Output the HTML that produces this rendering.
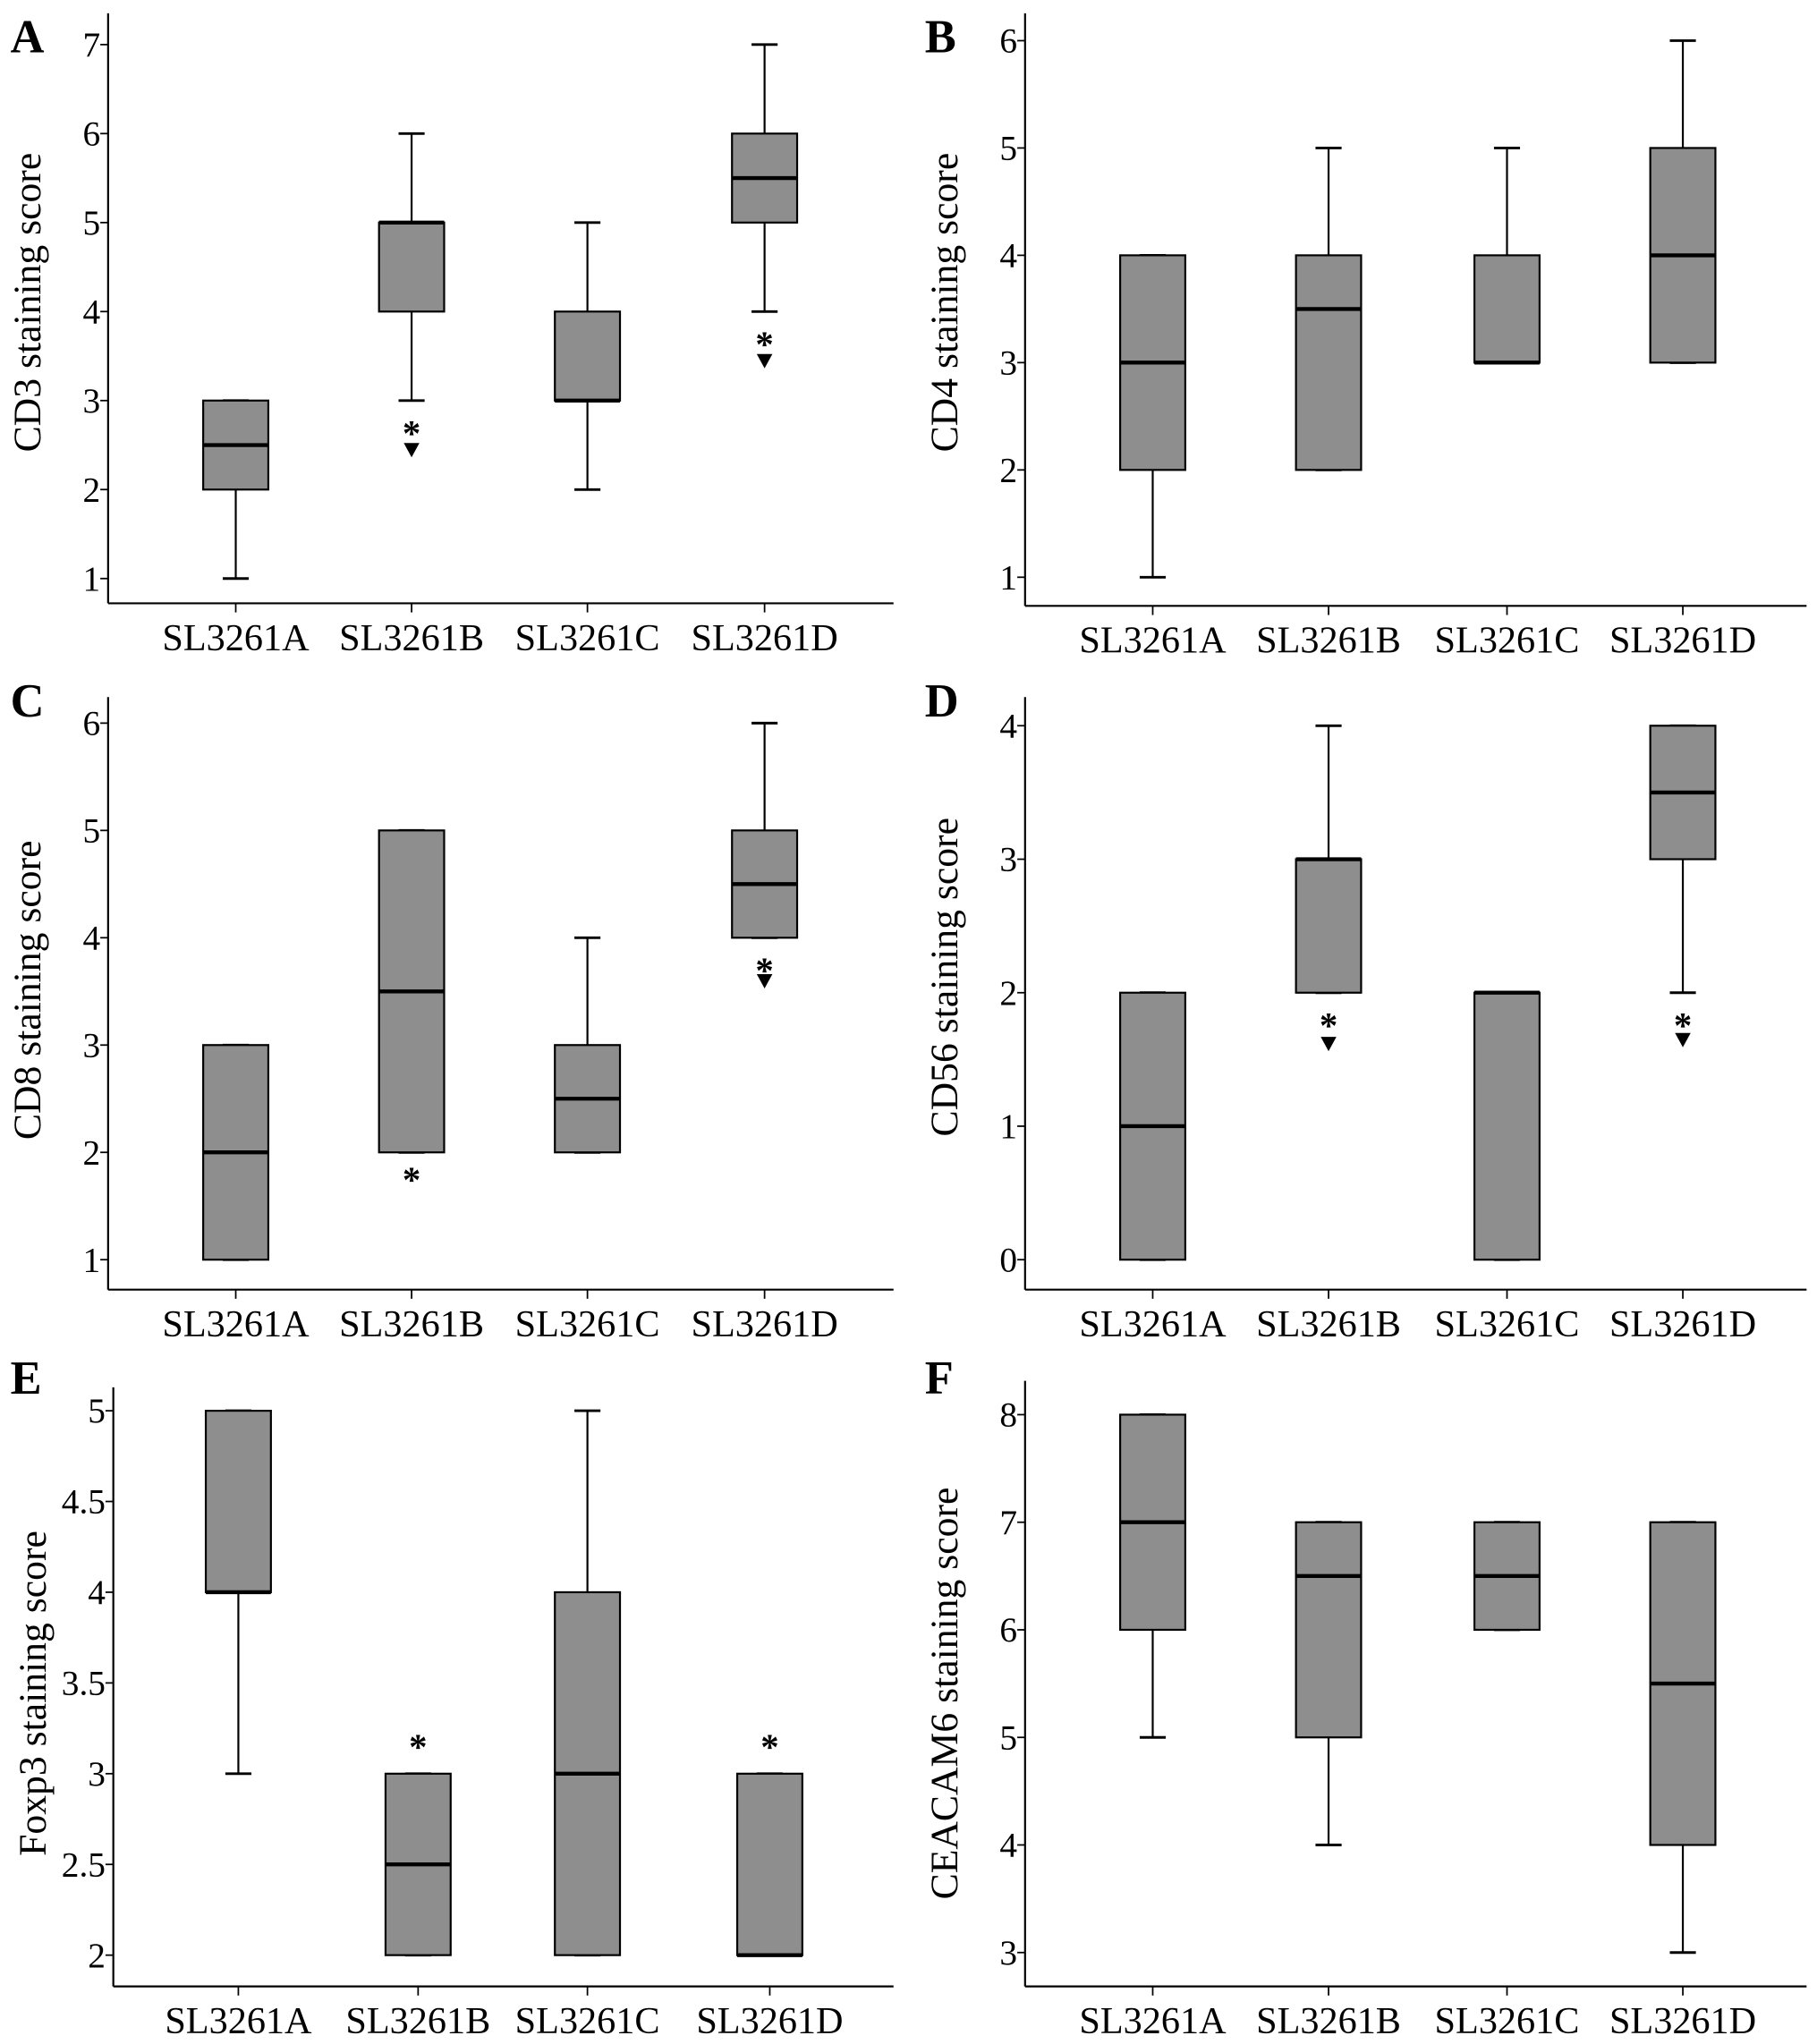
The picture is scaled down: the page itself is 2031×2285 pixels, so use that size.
<!DOCTYPE html>
<html><head><meta charset="utf-8"><style>
body{margin:0;background:#fff}
svg{display:block}
text{font-family:"Liberation Serif",serif;fill:#000}
</style></head><body>
<svg id="fig" width="2031" height="2285" viewBox="0 0 1395 1569" xmlns="http://www.w3.org/2000/svg"></svg>
<script>
const categories=["SL3261A","SL3261B","SL3261C","SL3261D"];
// per panel box stats: [min,q1,median,q3,max]
const statsA=[[1,2,2.5,3,3],[3,4,5,5,6],[2,3,3,4,5],[4,5,5.5,6,7]];
const statsB=[[1,2,3,4,4],[2,2,3.5,4,5],[3,3,3,4,5],[3,3,4,5,6]];
const statsC=[[1,1,2,3,3],[2,2,3.5,5,5],[2,2,2.5,3,4],[4,4,4.5,5,6]];
const statsD=[[0,0,1,2,2],[2,2,3,3,4],[0,0,2,2,2],[2,3,3.5,4,4]];
const statsE=[[3,4,4,5,5],[2,2,2.5,3,3],[2,2,3,4,5],[2,2,2,3,3]];
const statsF=[[5,6,7,8,8],[4,5,6.5,7,7],[6,6,6.5,7,7],[3,4,5.5,7,7]];
// outlier markers: [categoryIndex, value]
const starsA=[[1,2.7],[3,3.7]]; const trisA=[[1,2.45],[3,3.45]];
const starsC=[[1,1.8],[3,3.75]]; const trisC=[[3,3.6]];
const starsD=[[1,1.8],[3,1.8]]; const trisD=[[1,1.62],[3,1.65]];
const starsE=[[1,3.18],[3,3.18]]; const trisE=[];
const ticksA=["1","2","3","4","5","6","7"];
const ticksB=["1","2","3","4","5","6"];
const ticksC=["1","2","3","4","5","6"];
const ticksD=["0","1","2","3","4"];
const ticksE=["2","2.5","3","3.5","4","4.5","5"];
const ticksF=["3","4","5","6","7","8"];

const panels=[
 {id:"a",letter:"A",lx:8,ly:40,ax:83,top:10,base:463,right:686,v0:1,y0:444,v1:7,y1:34,cx:[181,316,451,587],title:"CD3 staining score",ty:232,stats:statsA,ticks:ticksA,stars:starsA,tris:trisA},
 {id:"b",letter:"B",lx:710,ly:40,ax:787,top:10,base:465,right:1387,v0:1,y0:443,v1:6,y1:31,cx:[885,1020,1157,1292],title:"CD4 staining score",ty:232,stats:statsB,ticks:ticksB,stars:[],tris:[]},
 {id:"c",letter:"C",lx:8,ly:550,ax:83,top:535,base:990,right:686,v0:1,y0:967,v1:6,y1:555,cx:[181,316,451,587],title:"CD8 staining score",ty:760,stats:statsC,ticks:ticksC,stars:starsC,tris:trisC},
 {id:"d",letter:"D",lx:710,ly:550,ax:787,top:535,base:990,right:1387,v0:0,y0:967,v1:4,y1:557,cx:[885,1020,1157,1292],title:"CD56 staining score",ty:750,stats:statsD,ticks:ticksD,stars:starsD,tris:trisD},
 {id:"e",letter:"E",lx:8,ly:1070,ax:87,top:1065,base:1525,right:686,v0:2,y0:1501,v1:5,y1:1083,cx:[183,321,451,591],title:"Foxp3 staining score",ty:1300,stats:statsE,ticks:ticksE,stars:starsE,tris:trisE},
 {id:"f",letter:"F",lx:710,ly:1070,ax:787,top:1060,base:1525,right:1387,v0:3,y0:1499,v1:8,y1:1086,cx:[885,1020,1157,1292],title:"CEACAM6 staining score",ty:1300,stats:statsF,ticks:ticksF,stars:[],tris:[]}
];
const NS="http://www.w3.org/2000/svg";
const svg=document.getElementById("fig");
function mk(tag,attrs,parent,txt){const e=document.createElementNS(NS,tag);for(const k in attrs)e.setAttribute(k,attrs[k]);if(txt!==undefined)e.textContent=txt;parent.appendChild(e);return e;}
panels.forEach(p=>{
 const g=mk("g",{},svg);
 
 
 const ys=v=>p.y0+(v-p.v0)*(p.y1-p.y0)/(p.v1-p.v0);
 const lt=mk("text",{x:p.lx,y:p.ly,"font-size":36,"font-weight":"bold"},g,p.letter);
 
 
 const ya=mk("line",{x1:p.ax,y1:p.top,x2:p.ax,y2:p.base,stroke:"#000","stroke-width":1.5},g);
 
 
 const xa=mk("line",{x1:p.ax,y1:p.base,x2:p.right,y2:p.base,stroke:"#000","stroke-width":1.5},g);
 
 
 p.ticks.forEach(t=>{
  const y=ys(parseFloat(t));
  mk("line",{x1:p.ax-6,y1:y,x2:p.ax,y2:y,stroke:"#000","stroke-width":1.2},g);
  const tl=mk("text",{x:p.ax-6,y:y+9,"font-size":27,"text-anchor":"end"},g,t);
  
  
 });
 const yt=mk("text",{x:0,y:0,"font-size":30,"text-anchor":"middle",transform:`translate(${p.ax-52},${p.ty}) rotate(-90)`},g,p.title);
 
 
 categories.forEach((c,i)=>{
  const x=p.cx[i];
  mk("line",{x1:x,y1:p.base,x2:x,y2:p.base+7,stroke:"#000","stroke-width":1.2},g);
  const cl=mk("text",{x:x,y:p.base+36,"font-size":29,"text-anchor":"middle"},g,c);
  
  
  const s=p.stats[i];const w=50,cap=10;
  const bg=mk("g",{},g);
  
  
  mk("line",{x1:x,y1:ys(s[0]),x2:x,y2:ys(s[4]),stroke:"#000","stroke-width":1.5},bg);
  mk("line",{x1:x-cap,y1:ys(s[0]),x2:x+cap,y2:ys(s[0]),stroke:"#000","stroke-width":2},bg);
  mk("line",{x1:x-cap,y1:ys(s[4]),x2:x+cap,y2:ys(s[4]),stroke:"#000","stroke-width":2},bg);
  const yq3=ys(s[3]),yq1=ys(s[1]);
  mk("rect",{x:x-w/2,y:yq3,width:w,height:Math.max(yq1-yq3,1),fill:"#8e8e8e",stroke:"#000","stroke-width":1.5},bg);
  mk("line",{x1:x-w/2,y1:ys(s[2]),x2:x+w/2,y2:ys(s[2]),stroke:"#000","stroke-width":3},bg);
 });
 p.stars.forEach(s=>{
  const st=mk("text",{x:p.cx[s[0]],y:ys(s[1])+14,"font-size":28,"font-weight":"bold","text-anchor":"middle"},g,"*");
  
  
 });
 p.tris.forEach(s=>{
  const x=p.cx[s[0]],y=ys(s[1]);
  const tr=mk("path",{d:`M${x-6} ${y-5}L${x+6} ${y-5}L${x} ${y+6}Z`,fill:"#000"},g);
  
  
 });
});
</script>
</body></html>
